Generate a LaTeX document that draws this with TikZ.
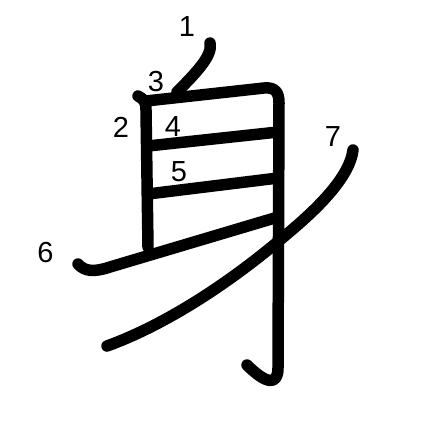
\documentclass[tikz,border=0pt]{standalone}
\usepackage{fontspec}
\setmainfont{Liberation Sans}
\begin{document}
\begin{tikzpicture}[x=1pt,y=-1pt,
  strk/.style={line width=11.5pt,line cap=round,line join=round},
  num/.style={font=\fontsize{29}{29}\selectfont,inner sep=0pt}]
\useasboundingbox (0,0) rectangle (447,447);
% stroke 1
\draw[strk] (210,43) .. controls (213,55) and (197,72) .. (177,92);
% stroke 2
\draw[strk] (138,96) .. controls (144,99) and (146,102) .. (146,110) -- (148,247);
% stroke 3
\draw[strk] (146,101) -- (264,88) .. controls (275,87) and (279,92) .. (279,103) -- (278,368) .. controls (278,386) and (266,384) .. (247,365);
% stroke 4
\draw[strk] (148,146) -- (278,132);
% stroke 5
\draw[strk] (148,194) -- (278,178);
% stroke 6
\draw[strk] (78,264) .. controls (85,272) and (95,272) .. (110,267) -- (278,217);
% stroke 7
\draw[strk] (353,150) .. controls (350,175) and (322,205) .. (287,234) .. controls (230,283) and (165,325) .. (107,346);
% numbers
\node[num] (n1) at (187,27) {1};
\node[num] (n2) at (121,127) {2};
\node[num] (n3) at (156,82) {3};
\node[num] (n4) at (173,127) {4};
\node[num] (n5) at (179,172) {5};
\node[num] (n6) at (45.5,252.5) {6};
\node[num] (n7) at (333,137) {7};
\end{tikzpicture}
\end{document}
